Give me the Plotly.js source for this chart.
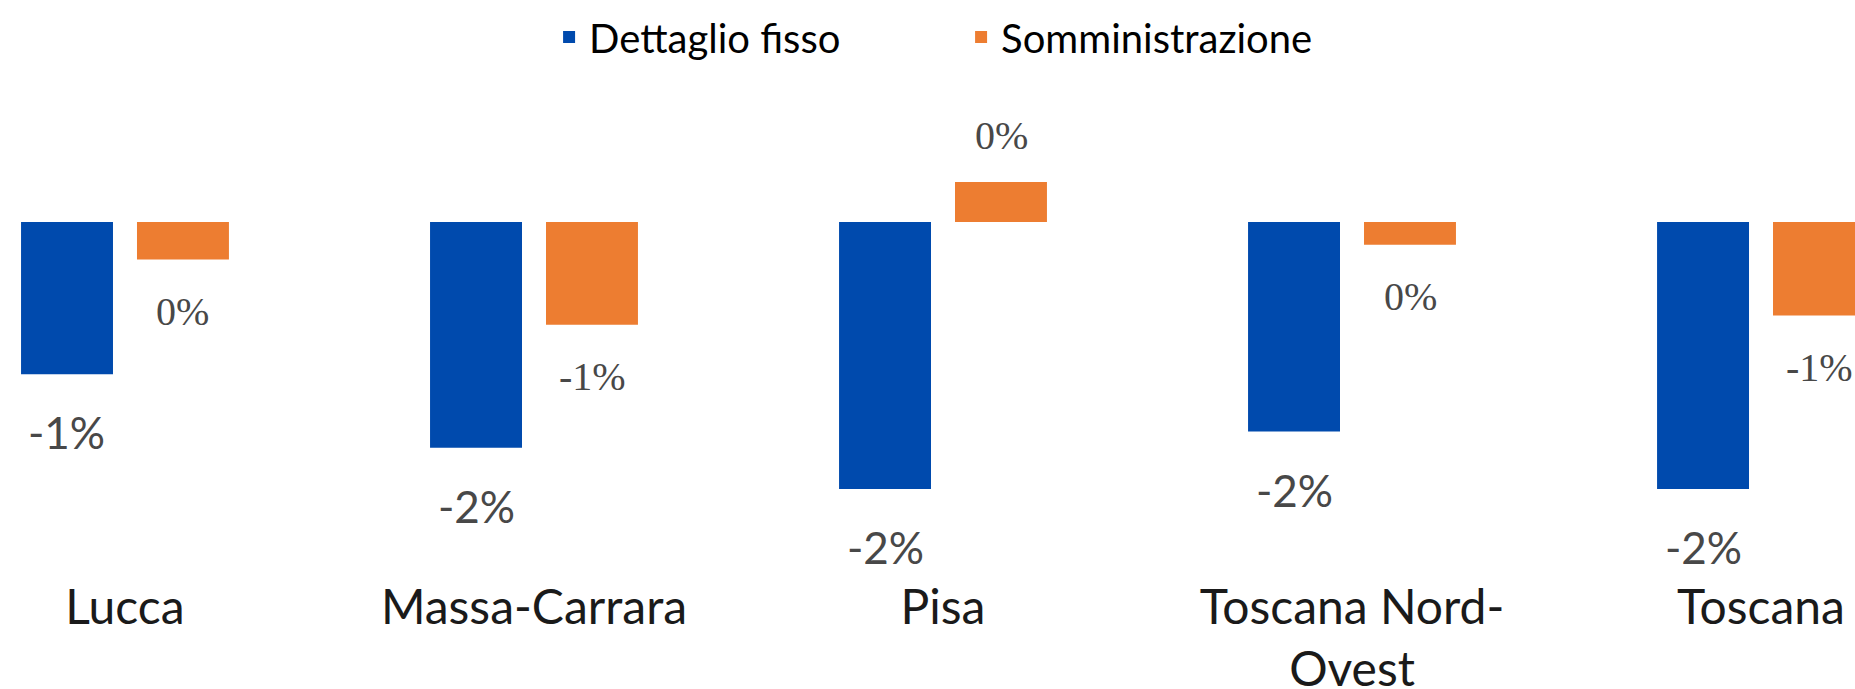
<!DOCTYPE html>
<html>
<head>
<meta charset="utf-8">
<script src="https://cdn.plot.ly/plotly-3.0.1.min.js"></script>
<style>html,body{margin:0;padding:0;background:#fff;}#chart{width:1855px;height:689px;}</style>
</head>
<body>
<div id="chart"></div>
<script>
// Data (percent)
const categories = ["Lucca", "Massa-Carrara", "Pisa", "Toscana Nord-<br>Ovest", "Toscana"];
const dettaglioFisso = [-1.14, -1.69, -2.0, -1.57, -2.0];
const somministrazione = [-0.28, -0.77, 0.30, -0.17, -0.70];
const seriesNames = ["Dettaglio fisso", "Somministrazione"];

const BLUE = "#004AAD";
const ORANGE = "#ED7D31";

function pct(v) { const r = Math.round(v); return (r === 0 ? 0 : r) + "%"; }

const traces = [
  { type: "bar", name: seriesNames[0], x: categories, y: dettaglioFisso,
    marker: { color: BLUE }, hoverinfo: "none" },
  { type: "bar", name: seriesNames[1], x: categories, y: somministrazione,
    marker: { color: ORANGE }, hoverinfo: "none" }
];

const annotations = [];
categories.forEach((c, i) => {
  const v1 = dettaglioFisso[i];
  annotations.push({ x: c, y: v1, xref: "x", yref: "y", text: pct(v1), showarrow: false,
    xshift: -58, yshift: v1 < 0 ? -58 : 52, yanchor: "middle",
    font: { family: "Lato, 'Open Sans', sans-serif", size: 44, color: "#484848" } });
  const v2 = somministrazione[i];
  annotations.push({ x: c, y: v2, xref: "x", yref: "y", text: pct(v2), showarrow: false,
    xshift: 58, yshift: v2 < 0 ? -52 : 46, yanchor: "middle",
    font: { family: "'Liberation Serif', 'DejaVu Serif', serif", size: 40, color: "#484848" } });
});

const layout = {
  width: 1855, height: 689,
  margin: { l: 0, r: 0, t: 75, b: 114, pad: 0 },
  paper_bgcolor: "#fff", plot_bgcolor: "#fff",
  barmode: "group", bargap: 0.433, bargroupgap: 0.207,
  showlegend: true,
  legend: { orientation: "h", x: 0.296, xanchor: "left", y: 1.076, yanchor: "middle",
    entrywidth: 367, entrywidthmode: "pixels",
    font: { family: "Lato, 'Open Sans', sans-serif", size: 40, color: "#000" },
    traceorder: "normal" },
  xaxis: { type: "category", range: [-0.3056, 4.2298], showgrid: false, showline: false,
    zeroline: false, ticks: "", fixedrange: true,
    tickfont: { family: "Lato, 'Open Sans', sans-serif", size: 48, color: "#1a1a1a" } },
  yaxis: { range: [-2.644, 1.101], visible: false, showgrid: false, zeroline: false, fixedrange: true },
  annotations: annotations
};

Plotly.newPlot("chart", traces, layout, { displayModeBar: false, staticPlot: true });
</script>
</body>
</html>
